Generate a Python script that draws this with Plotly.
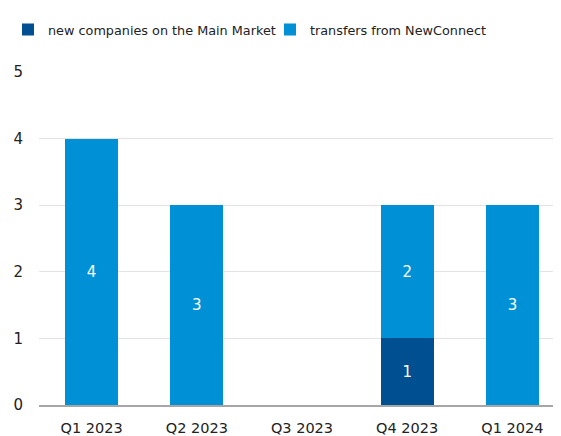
import plotly.graph_objects as go

categories = ["Q1 2023", "Q2 2023", "Q3 2023", "Q4 2023", "Q1 2024"]
new_companies = [0, 0, 0, 1, 0]
transfers = [4, 3, 0, 2, 3]

def labels(vals):
    return [str(v) if v else "" for v in vals]

fig = go.Figure()
fig.add_trace(go.Bar(
    x=categories, y=new_companies, name="new companies on the Main Market",
    marker=dict(color="#004f91", line=dict(width=0)),
    text=labels(new_companies), textposition="inside", insidetextanchor="middle",
    textfont=dict(color="white", size=15), hoverinfo="skip",
))
fig.add_trace(go.Bar(
    x=categories, y=transfers, name="transfers from NewConnect",
    marker=dict(color="#0090d6", line=dict(width=0)),
    text=labels(transfers), textposition="inside", insidetextanchor="middle",
    textfont=dict(color="white", size=15), hoverinfo="skip",
))

fig.update_layout(
    barmode="stack", bargap=0.496,
    width=561, height=436,
    margin=dict(l=31, r=4, t=64, b=39, autoexpand=False),
    paper_bgcolor="white", plot_bgcolor="white",
    font=dict(family="DejaVu Sans, Verdana, sans-serif", size=14, color="#222222"),
    legend=dict(orientation="h", xref="container", yref="container",
                x=0.0, xanchor="left", y=0.95, yanchor="middle",
                font=dict(size=12.8), entrywidth=217, entrywidthmode="pixels",
                tracegroupgap=0, traceorder="normal"),
    uniformtext=dict(mode="show", minsize=15),
)
fig.update_xaxes(showline=True, linecolor="#a6a6a6", linewidth=2, ticks="", showgrid=False,
                 ticklabelstandoff=9, tickfont=dict(size=14.5))
fig.update_yaxes(range=[0, 5], dtick=1, showgrid=True, gridcolor="#e3e3e3", gridwidth=1,
                 zeroline=False, showline=False, ticks="", ticklabelstandoff=15,
                 tickfont=dict(size=15))

fig.write_html("out.html")
